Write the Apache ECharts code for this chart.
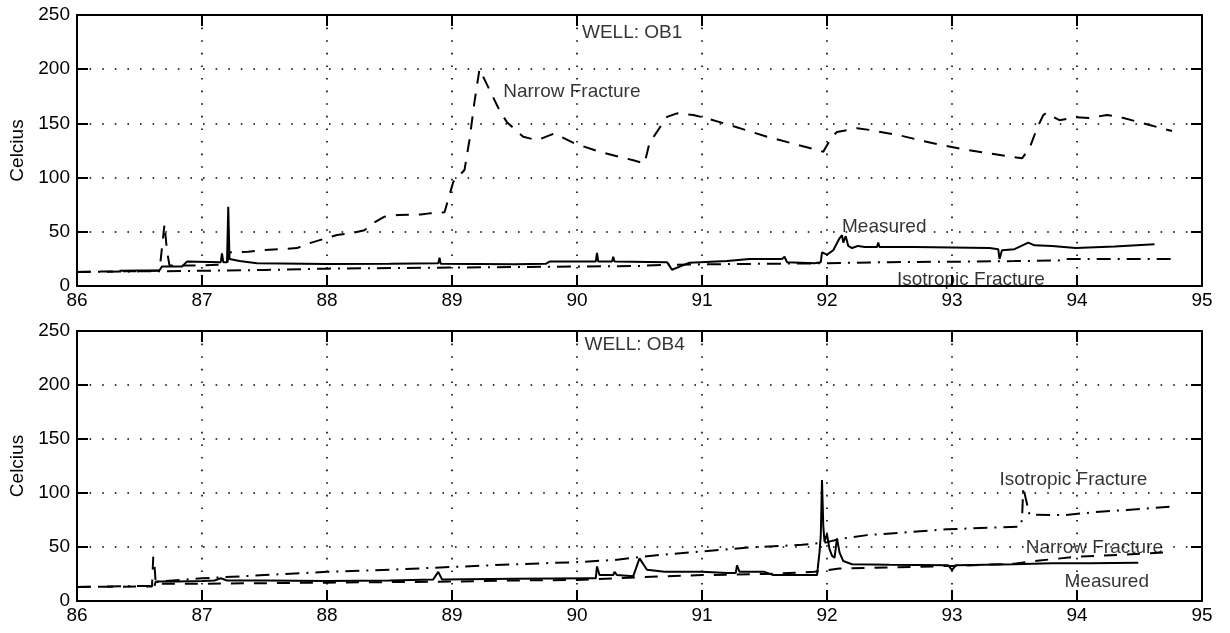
<!DOCTYPE html>
<html>
<head>
<meta charset="utf-8">
<script src="https://cdn.jsdelivr.net/npm/echarts@6/dist/echarts.min.js"></script>
<style>
html,body{margin:0;padding:0;background:#fff;}
#chart{width:1230px;height:633px;}
</style>
</head>
<body>
<div id="chart"></div>
<script>
// ---- axis ticks ----
const xTicks = [86, 87, 88, 89, 90, 91, 92, 93, 94, 95];
const yTicks = [0, 50, 100, 150, 200, 250];
const yName = 'Celcius';

// ---- WELL OB1 (top) ----
const ob1Measured = [
  [86.34,14],[86.66,14.5],[86.68,18],[86.84,18],[86.88,22.5],[87.15,22],[87.16,30],[87.17,22],[87.2,22],
  [87.21,73],[87.22,25],[87.3,23],[87.44,21],[88.0,20.3],[88.5,20.5],[88.89,21],[88.9,26],[88.91,20.5],
  [89.5,20],[89.75,20.5],[89.78,22.5],[90.15,22.5],[90.16,30.5],[90.17,22.5],[90.28,22.5],[90.29,27],
  [90.3,22.5],[90.72,22],[90.76,15],[90.9,21.5],[91.2,23],[91.38,25],[91.64,25],[91.66,27],[91.68,22],
  [91.9,21],[91.95,22],[91.96,31],[92.0,29],[92.05,33],[92.1,44],[92.12,47],[92.13,40],[92.15,46],
  [92.17,37],[92.2,35],[92.25,37],[92.3,36],[92.4,36],[92.41,40],[92.42,36],[92.7,36],[93.0,35.5],
  [93.3,35],[93.37,34],[93.38,25],[93.4,33],[93.5,34],[93.61,40],[93.66,37.5],[93.8,37],[93.99,35],
  [94.3,36.5],[94.62,38.5]
];
const ob1Narrow = [
  [86.0,13],[86.66,14],[86.7,57],[86.72,32],[86.74,19],[87.0,19],[87.2,20],[87.22,31],[87.37,31.6],
  [87.48,33],[87.76,35],[87.86,39.5],[88.08,47],[88.21,49],[88.3,51.5],[88.37,58],[88.46,64],[88.57,65.5],
  [88.75,66],[88.82,67],[88.94,68],[89.01,96],[89.1,107],[89.14,135],[89.18,170],[89.22,200],[89.3,181],
  [89.38,162],[89.44,151],[89.57,137.6],[89.68,134.5],[89.82,140.7],[89.98,131.5],[90.18,123.8],
  [90.45,116],[90.54,113],[90.58,132],[90.72,156],[90.8,159.3],[90.93,157.7],[91.04,154.7],[91.22,148.5],
  [91.52,137.7],[91.92,125.5],[91.97,123.9],[92.04,137.7],[92.08,142],[92.24,145.5],[92.34,144],
  [92.58,139],[92.85,131.6],[93.12,125.5],[93.56,117.8],[93.62,127],[93.68,145.5],[93.73,157.7],
  [93.76,160],[93.81,156],[93.86,153],[93.99,155.6],[94.1,155],[94.24,157.7],[94.34,156],[94.58,148.5],
  [94.76,143]
];
const ob1Isotropic = [
  [86.0,13],[86.5,13.5],[87.0,14],[87.5,14.8],[88.0,16],[88.5,16.5],[89.0,17],[89.5,17.5],[90.0,18],
  [90.5,18.5],[90.7,19.5],[91.0,20],[91.5,20.5],[92.0,21],[92.5,22],[93.0,22.4],[93.5,23],[93.85,23.5],
  [93.9,25],[94.3,25],[94.76,25]
];
const ob1LabelText = ['WELL: OB1', 'Narrow Fracture', 'Measured', 'Isotropic Fracture'];
const ob1LabelAt = [[90.04,234],[89.41,179],[92.12,55],[92.56,5.5]];

// ---- WELL OB4 (bottom) ----
const ob4Measured = [
  [86.62,14],[86.63,18],[86.8,18],[87.0,18.5],[87.1,19],[87.15,21],[87.2,19],[87.5,19],[88.0,18.5],
  [88.5,19],[88.85,20],[88.89,27],[88.92,20],[89.5,20.5],[90.1,21],[90.15,21],[90.16,32],[90.18,24],
  [90.29,24],[90.3,27],[90.32,24],[90.45,23],[90.5,39.5],[90.56,29],[90.7,27],[91.0,27],[91.2,26],
  [91.27,26],[91.28,33],[91.3,27],[91.5,27],[91.57,24],[91.92,24],[91.94,45],[91.95,60],[91.96,112],
  [91.97,70],[91.98,55],[92.0,62],[92.02,48],[92.04,42],[92.06,40],[92.08,58],[92.1,45],[92.13,37],
  [92.2,34],[92.5,33.5],[92.97,33],[93.0,28.7],[93.03,33],[93.5,34],[93.8,35],[94.1,35],[94.49,35.5]
];
const ob4Narrow = [
  [86.0,13],[86.6,13.5],[86.61,41],[86.62,33],[86.63,16],[87.0,16],[87.5,16.5],[88.0,17],[88.5,17.5],
  [89.0,18],[89.5,19],[90.0,19.5],[90.5,22],[91.0,24],[91.5,25],[91.9,27],[92.1,30],[92.5,31],
  [93.0,32.5],[93.5,34.5],[93.7,37.5],[94.0,41],[94.4,43],[94.72,45]
];
const ob4Isotropic = [
  [86.0,13],[86.6,14],[86.65,18],[87.0,21],[87.5,24],[88.0,27],[88.5,29],[89.0,31.5],[89.5,34],
  [90.0,36],[90.3,38],[90.6,42],[90.9,45],[91.4,49.7],[91.8,52],[92.0,54.5],[92.13,58],[92.32,61],
  [92.96,66.4],[93.54,68.8],[93.56,75],[93.57,105],[93.59,95],[93.62,80],[93.9,79.5],[94.18,82.7],
  [94.4,84.3],[94.74,87.3]
];
const ob4LabelText = ['WELL: OB4', 'Isotropic Fracture', 'Narrow Fracture', 'Measured'];
const ob4LabelAt = [[90.06,237],[93.38,112],[93.59,49],[93.9,18]];

// ---- build ----
const FONT = 'Liberation Sans, Arial, Helvetica, sans-serif';
const black = '#000';
const xMin = xTicks[0], xMax = xTicks[xTicks.length - 1], xStep = xTicks[1] - xTicks[0];
const yMin = yTicks[0], yMax = yTicks[yTicks.length - 1], yStep = yTicks[1] - yTicks[0];

function xAxisDef(gi, pos, primary) {
  return {
    type: 'value', gridIndex: gi, position: pos, min: xMin, max: xMax, interval: xStep,
    axisLine: { show: true, onZero: false, lineStyle: { color: black, width: 2 } },
    axisTick: { show: true, inside: true, length: 11, lineStyle: { color: black, width: 2 } },
    axisLabel: { show: primary, color: black, fontSize: 19, fontFamily: FONT, margin: 5 },
    splitLine: { show: primary, lineStyle: { color: black, width: 1.6, type: [1.6, 11] } }
  };
}
function yAxisDef(gi, pos, primary) {
  return {
    type: 'value', gridIndex: gi, position: pos, min: yMin, max: yMax, interval: yStep,
    name: primary ? yName : '', nameLocation: 'middle', nameGap: 50, nameRotate: 90,
    nameTextStyle: { color: black, fontSize: 19, fontFamily: FONT },
    axisLine: { show: true, onZero: false, lineStyle: { color: black, width: 2 } },
    axisTick: { show: true, inside: true, length: 11, lineStyle: { color: black, width: 2 } },
    axisLabel: { show: primary, color: black, fontSize: 19, fontFamily: FONT, margin: 7 },
    splitLine: { show: primary, lineStyle: { color: black, width: 1.6, type: [1.6, 11] } }
  };
}
function lineSeries(data, ai, type, width) {
  return {
    type: 'line', data: data, xAxisIndex: ai, yAxisIndex: ai, showSymbol: false, symbol: 'none',
    lineStyle: { color: black, width: width, type: type }, z: 5, silent: true
  };
}
function labelSeries(texts, at, ai) {
  return {
    type: 'scatter', xAxisIndex: ai, yAxisIndex: ai, symbolSize: 0, silent: true, z: 10,
    data: texts.map((t, i) => ({ name: t, value: at[i] })),
    label: { show: true, position: 'right', distance: 0, formatter: p => p.name,
      color: black, fontSize: 19, fontFamily: FONT }
  };
}

const dashed = [13, 10];
const dashDot = [14, 7, 2, 7];

const option = {
  animation: false,
  backgroundColor: '#fff',
  grid: [
    { left: 77, top: 15, width: 1125, height: 271, show: false },
    { left: 77, top: 331, width: 1125, height: 270, show: false }
  ],
  xAxis: [
    xAxisDef(0, 'bottom', true), xAxisDef(1, 'bottom', true),
    xAxisDef(0, 'top', false), xAxisDef(1, 'top', false)
  ],
  yAxis: [
    yAxisDef(0, 'left', true), yAxisDef(1, 'left', true),
    yAxisDef(0, 'right', false), yAxisDef(1, 'right', false)
  ],
  series: [
    lineSeries(ob1Isotropic, 0, dashDot, 2),
    lineSeries(ob1Narrow, 0, dashed, 2),
    lineSeries(ob1Measured, 0, 'solid', 2),
    labelSeries(ob1LabelText, ob1LabelAt, 0),
    lineSeries(ob4Isotropic, 1, dashDot, 2),
    lineSeries(ob4Narrow, 1, dashed, 2),
    lineSeries(ob4Measured, 1, 'solid', 2),
    labelSeries(ob4LabelText, ob4LabelAt, 1)
  ]
};

const chart = echarts.init(document.getElementById('chart'), null, { renderer: 'canvas' });
chart.setOption(option);
</script>
</body>
</html>
